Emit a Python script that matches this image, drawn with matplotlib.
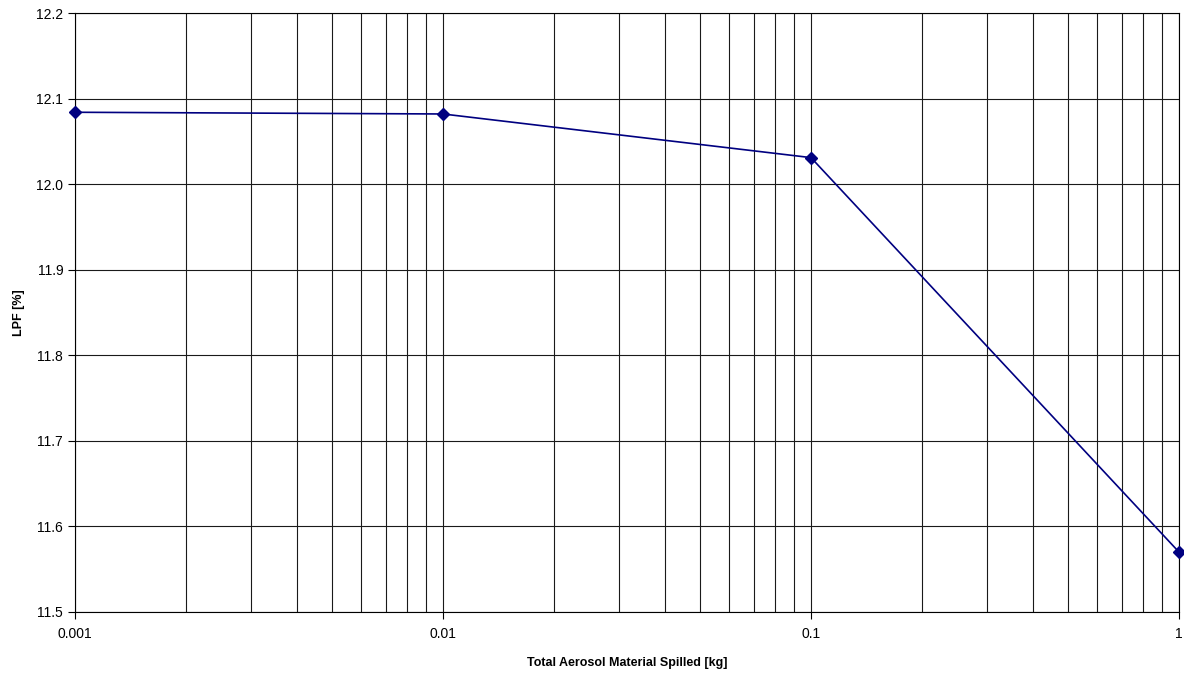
import matplotlib
matplotlib.use("Agg")
import matplotlib.pyplot as plt
from matplotlib.ticker import FixedLocator, NullFormatter, LogLocator

spilled_kg = [0.001, 0.01, 0.1, 1.0]
lpf_pct = [12.084, 12.082, 12.031, 11.570]
x_ticks = [0.001, 0.01, 0.1, 1]
x_labels = ["0.001", "0.01", "0.1", "1"]

plt.rcParams["font.family"] = ["Liberation Sans", "DejaVu Sans"]

fig = plt.figure(figsize=(11.84, 6.74), dpi=100)
ax = fig.add_axes([0.0633, 0.092, 0.9325, 0.8887])

ax.plot(spilled_kg, lpf_pct, color="#000080", lw=1.2, marker="D", ms=6,
        clip_on=False, zorder=3)

ax.set_xscale("log")
ax.set_xlim(0.001, 1)
ax.set_ylim(11.5, 12.2)
ax.xaxis.set_major_locator(FixedLocator(x_ticks))
ax.set_xticklabels(x_labels)
ax.xaxis.set_minor_locator(LogLocator(base=10, subs=range(2, 10)))
ax.xaxis.set_minor_formatter(NullFormatter())
ax.set_yticks([11.5 + 0.1 * i for i in range(8)])
ax.set_yticklabels([f"{11.5 + 0.1 * i:.1f}" for i in range(8)])

ax.grid(True, which="major", color="#1a1a1a", lw=0.8)
ax.grid(True, which="minor", axis="x", color="#1a1a1a", lw=0.8)
ax.tick_params(which="major", direction="out", length=5, width=0.8,
               labelsize=10, color="#000000")
ax.tick_params(which="minor", length=0)
ax.tick_params(axis="x", pad=5.5)
for s in ax.spines.values():
    s.set_color("#000000")
    s.set_linewidth(0.8)

ax.set_xlabel("Total Aerosol Material Spilled [kg]", fontsize=9,
              fontweight="bold", labelpad=11.5)
ax.set_ylabel("LPF [%]", fontsize=9, fontweight="bold", labelpad=8)

fig.savefig("out.png", dpi=100)
